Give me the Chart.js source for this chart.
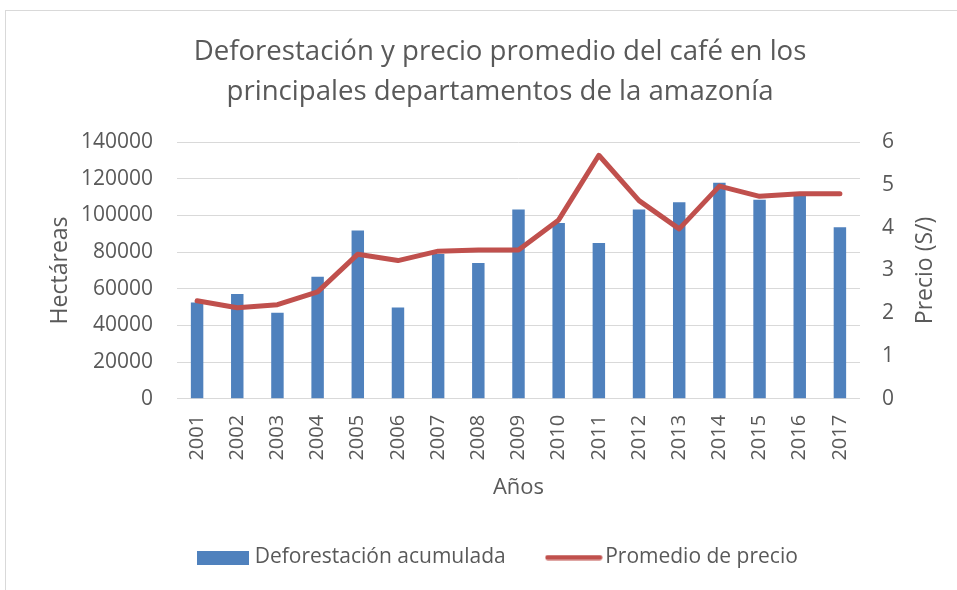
<!DOCTYPE html>
<html>
<head>
<meta charset="utf-8">
<title>Deforestación y precio del café</title>
<script src="https://cdn.jsdelivr.net/npm/chart.js@4.4.1/dist/chart.umd.min.js"></script>
<style>
    html, body { margin: 0; padding: 0; background: #fff; overflow: hidden; }
    #wrap { position: relative; width: 957px; height: 590px; overflow: hidden; }
    #frame { position: absolute; left: 5px; top: 10px; width: 1200px; height: 1000px; border: 1px solid #d9d9d9; pointer-events: none; }
</style>
</head>
<body>
<div id="wrap">
    <canvas id="chart" width="957" height="590"></canvas>
    <div id="frame"></div>
</div>
<script>
const years = ['2001', '2002', '2003', '2004', '2005', '2006', '2007', '2008', '2009',
               '2010', '2011', '2012', '2013', '2014', '2015', '2016', '2017'];
const deforestacion = [52500, 57100, 47000, 66500, 91700, 49800, 79000, 74000, 103200,
                       95900, 85000, 103200, 107200, 117800, 108500, 111000, 93500];
const precio = [2.29, 2.13, 2.20, 2.50, 3.38, 3.23, 3.45, 3.48, 3.48,
                4.18, 5.69, 4.63, 3.97, 4.97, 4.73, 4.79, 4.79];

const textColor = '#595959';
const gridColor = '#d9d9d9';
const barColor = '#4f81bd';
const lineColor = '#c0504d';
const fontFamily = '"Open Sans", "Noto Sans", sans-serif';

// legend swatches drawn on small canvases
function makeSwatch(w, h, draw) {
    const c = document.createElement('canvas');
    c.width = w;
    c.height = h;
    draw(c.getContext('2d'));
    return c;
}
const barSwatch = makeSwatch(52, 14, g => { g.fillStyle = barColor; g.fillRect(0, 0, 52, 14); });
const lineSwatch = makeSwatch(58, 6, g => {
    g.strokeStyle = lineColor;
    g.lineWidth = 5;
    g.lineCap = 'round';
    g.beginPath();
    g.moveTo(3, 3);
    g.lineTo(55, 3);
    g.stroke();
});

// right axis title reads bottom-to-top like the left one
const rightTitle = {
    id: 'rightTitle',
    afterDraw(chart) {
        const s = chart.scales.y1;
        const a = chart.chartArea;
        const ctx = chart.ctx;
        ctx.save();
        ctx.translate(s.right - 32, (a.top + a.bottom) / 2);
        ctx.rotate(-Math.PI / 2);
        ctx.font = '23px ' + fontFamily;
        ctx.fillStyle = textColor;
        ctx.textAlign = 'center';
        ctx.textBaseline = 'middle';
        ctx.fillText('Precio (S/)', 0, 0);
        ctx.restore();
    }
};

let chart;

function initializeChart() {
    const ctx = document.getElementById('chart').getContext('2d');
    chart = new Chart(ctx, {
        type: 'bar',
        data: {
            labels: years,
            datasets: [
                {
                    type: 'bar',
                    label: 'Deforestación acumulada',
                    data: deforestacion,
                    backgroundColor: barColor,
                    borderWidth: 0,
                    yAxisID: 'y',
                    order: 1,
                    barPercentage: 0.31,
                    categoryPercentage: 1,
                },
                {
                    type: 'line',
                    label: 'Promedio de precio',
                    data: precio,
                    borderColor: lineColor,
                    backgroundColor: lineColor,
                    borderWidth: 5,
                    borderJoinStyle: 'round',
                    borderCapStyle: 'round',
                    pointRadius: 0,
                    tension: 0,
                    yAxisID: 'y1',
                    order: 0,
                },
            ],
        },
        options: {
            responsive: false,
            animation: false,
            layout: { padding: { left: 43, right: 0, top: 0, bottom: 12 } },
            font: { family: fontFamily },
            plugins: {
                tooltip: { enabled: false },
                title: {
                    display: true,
                    text: ['Deforestación y precio promedio del café en los',
                           'principales departamentos de la amazonía'],
                    color: textColor,
                    font: { family: fontFamily, size: 27.6, weight: 'normal', lineHeight: 40 / 27.6 },
                    padding: { top: 32, bottom: 30 },
                },
                legend: {
                    position: 'bottom',
                    labels: {
                        usePointStyle: true,
                        pointStyleWidth: 42,
                        boxHeight: 14,
                        padding: 47,
                        color: textColor,
                        font: { family: fontFamily, size: 21 },
                        generateLabels: (c) => c.data.datasets.map((ds, i) => ({
                            text: ds.label,
                            datasetIndex: i,
                            pointStyle: i === 0 ? barSwatch : lineSwatch,
                            fillStyle: ds.backgroundColor,
                            strokeStyle: ds.borderColor,
                            lineWidth: 0,
                            fontColor: textColor,
                            hidden: false,
                        })),
                    },
                },
            },
            scales: {
                x: {
                    offset: true,
                    grid: { display: false },
                    border: { display: false },
                    ticks: {
                        color: textColor,
                        font: { family: fontFamily, size: 20 },
                        minRotation: 90,
                        maxRotation: 90,
                        padding: 8,
                    },
                    title: {
                        display: true,
                        text: 'Años',
                        color: textColor,
                        font: { family: fontFamily, size: 22 },
                        padding: { top: 6, bottom: -1 },
                    },
                },
                y: {
                    position: 'left',
                    min: 0,
                    max: 140000,
                    grid: { color: gridColor, lineWidth: 1, drawTicks: false },
                    border: { display: false },
                    ticks: {
                        stepSize: 20000,
                        color: textColor,
                        font: { family: fontFamily, size: 21 },
                        padding: 24,
                        callback: (v) => String(v),
                    },
                    title: {
                        display: true,
                        text: 'Hectáreas',
                        color: textColor,
                        font: { family: fontFamily, size: 23 },
                    },
                    afterFit: (s) => { s.width = 134; },
                },
                y1: {
                    position: 'right',
                    min: 0,
                    max: 6,
                    grid: { display: false, drawTicks: false },
                    border: { display: false },
                    ticks: {
                        stepSize: 1,
                        color: textColor,
                        font: { family: fontFamily, size: 21 },
                        padding: 22,
                    },
                    afterFit: (s) => { s.width = 97; },
                },
            },
        },
        plugins: [rightTitle],
    });
}

window.addEventListener('load', () => {
    initializeChart();
});
</script>
</body>
</html>
